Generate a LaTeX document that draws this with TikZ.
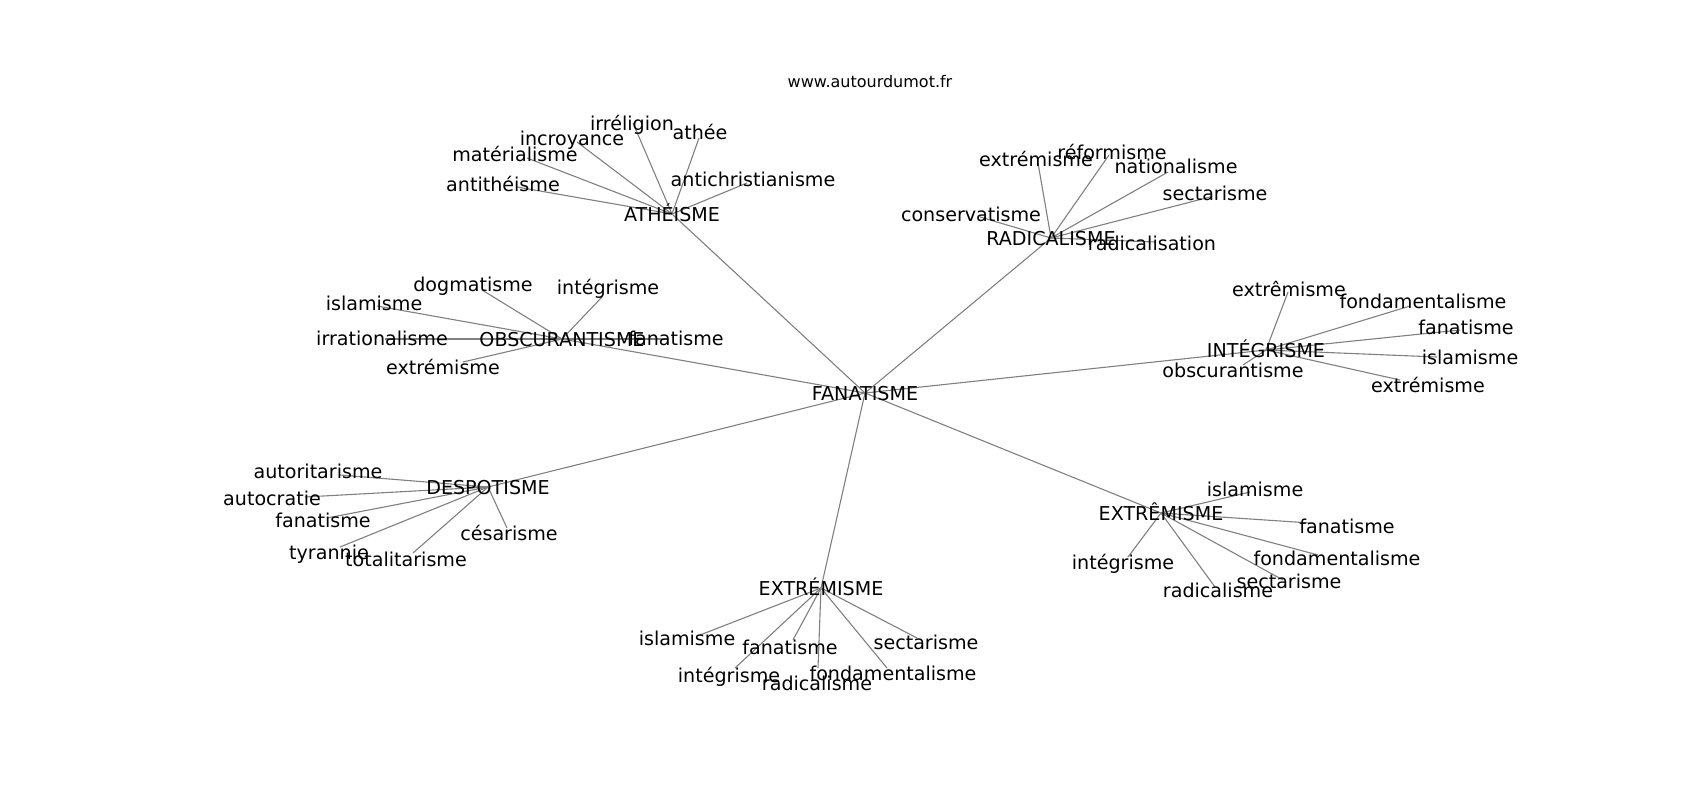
\documentclass[tikz,border=0pt]{standalone}
\usepackage{fontspec}
\setmainfont{DejaVu Sans}
\pgfdeclarelayer{bg}
\pgfdeclarelayer{paper}
\pgfsetlayers{paper,bg,main}
\tikzset{
  edge/.style={draw=black!50, line width=1.1pt},
  lbl/.style={inner sep=0pt, outer sep=0pt, text height=14pt, text depth=0pt, anchor=center,
              font=\fontsize{19.1}{22}\selectfont, text=black},
  hub/.style={lbl},
  ttl/.style={inner sep=0pt, outer sep=0pt, text height=12pt, text depth=0pt, anchor=center,
              font=\fontsize{16}{19}\selectfont, text=black}
}
% hub, name, end point, label position, text
\newcommand\leafnode[5]{%
  \coordinate (#2) at (#3);
  \begin{pgfonlayer}{bg}\draw[edge] (#1.center) -- (#2);\end{pgfonlayer}
  \node[lbl] (#2t) at (#4) {#5};
}
\begin{document}
\begin{tikzpicture}[x=1pt,y=-1pt]
\begin{pgfonlayer}{paper}
\fill[white] (0,0) rectangle (1700,800);
\end{pgfonlayer}
\useasboundingbox (0,0) rectangle (1700,800);

\node[ttl] (title) at (870,82) {www.autourdumot.fr};

% hubs
\node[hub] (fan) at (865,393) {FANATISME};
\node[hub] (ath) at (672,214) {ATHÉISME};
\node[hub] (rad) at (1051,238) {RADICALISME};
\node[hub] (obs) at (562,339) {OBSCURANTISME};
\node[hub] (int) at (1266,350) {INTÉGRISME};
\node[hub] (des) at (488,487) {DESPOTISME};
\node[hub] (exa) at (1161,513) {EXTRÊMISME};
\node[hub] (exb) at (821,588) {EXTRÉMISME};

\begin{pgfonlayer}{bg}
\foreach \h in {ath,rad,obs,int,des,exa,exb}{\draw[edge] (fan.center) -- (\h.center);}
\end{pgfonlayer}

% ATHÉISME
\leafnode{ath}{a1}{633,123}{632,123}{irréligion}
\leafnode{ath}{a2}{699,138}{700,132}{athée}
\leafnode{ath}{a3}{577,142}{572,138}{incroyance}
\leafnode{ath}{a4}{527,158}{515,154}{matérialisme}
\leafnode{ath}{a5}{517,187}{503,184}{antithéisme}
\leafnode{ath}{a6}{747,183}{753,179}{antichristianisme}

% RADICALISME
\leafnode{rad}{r1}{1038,163}{1036,159}{extrémisme}
\leafnode{rad}{r2}{1109,155}{1112,152}{réformisme}
\leafnode{rad}{r3}{1168,172}{1176,166}{nationalisme}
\leafnode{rad}{r4}{1210,197}{1215,193}{sectarisme}
\leafnode{rad}{r5}{980,217}{971,214}{conservatisme}
\leafnode{rad}{r6}{1155,242}{1152,243}{radicalisation}

% OBSCURANTISME
\leafnode{obs}{o1}{482,290}{473,284}{dogmatisme}
\leafnode{obs}{o2}{602,297}{608,287}{intégrisme}
\leafnode{obs}{o3}{377,306}{374,303}{islamisme}
\leafnode{obs}{o4}{385,339}{382,338}{irrationalisme}
\leafnode{obs}{o5}{463,362}{443,367}{extrémisme}
\leafnode{obs}{o6}{667,339}{676,338}{fanatisme}

% INTÉGRISME
\leafnode{int}{i1}{1288,292}{1289,289}{extrêmisme}
\leafnode{int}{i2}{1410,306}{1423,301}{fondamentalisme}
\leafnode{int}{i3}{1460,330}{1466,327}{fanatisme}
\leafnode{int}{i4}{1437,357}{1470,357}{islamisme}
\leafnode{int}{i5}{1400,380}{1428,385}{extrémisme}
\leafnode{int}{i6}{1243,365}{1233,370}{obscurantisme}

% DESPOTISME
\leafnode{des}{d1}{340,475}{318,471}{autoritarisme}
\leafnode{des}{d2}{305,497}{272,498}{autocratie}
\leafnode{des}{d3}{327,518}{323,520}{fanatisme}
\leafnode{des}{d4}{507,528}{509,533}{césarisme}
\leafnode{des}{d5}{340,547}{329,552}{tyrannie}
\leafnode{des}{d6}{413,553}{406,559}{totalitarisme}

% EXTRÊMISME
\leafnode{exa}{e1}{1250,492}{1255,489}{islamisme}
\leafnode{exa}{e2}{1310,523}{1347,526}{fanatisme}
\leafnode{exa}{e3}{1128,557}{1123,562}{intégrisme}
\leafnode{exa}{e4}{1215,587}{1218,590}{radicalisme}
\leafnode{exa}{e5}{1318,555}{1337,558}{fondamentalisme}
\leafnode{exa}{e6}{1283,580}{1289,581}{sectarisme}

% EXTRÉMISME
\leafnode{exb}{x1}{700,635}{687,638}{islamisme}
\leafnode{exb}{x2}{793,640}{790,647}{fanatisme}
\leafnode{exb}{x3}{917,638}{926,642}{sectarisme}
\leafnode{exb}{x4}{735,668}{729,675}{intégrisme}
\leafnode{exb}{x5}{818,668}{817,683}{radicalisme}
\leafnode{exb}{x6}{887,668}{893,673}{fondamentalisme}
\end{tikzpicture}
\end{document}
